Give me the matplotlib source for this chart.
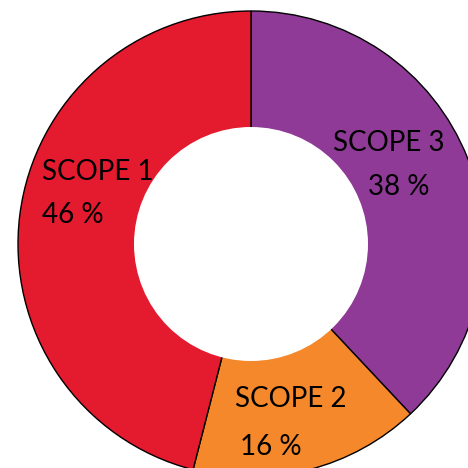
import matplotlib.pyplot as plt
from matplotlib.patches import Circle

labels = ["SCOPE 3", "SCOPE 2", "SCOPE 1"]
valores = [38, 16, 46]
colores = ["#8E3A96", "#F4882A", "#E41B2F"]

W = 468
cx, cy = 251, W - 244
r_ext, r_int = 233, 117

fig = plt.figure(figsize=(4.68, 4.68), dpi=100)
ax = fig.add_axes([0, 0, 1, 1])

ax.pie(valores, colors=colores, startangle=90, counterclock=False,
       center=(cx, cy), radius=r_ext, frame=True,
       wedgeprops=dict(edgecolor="black", linewidth=1.0))
ax.add_patch(Circle((cx, cy), r_int, facecolor="white", edgecolor="none", zorder=5))

# posicion de los textos (pixeles, desde arriba)
pos_nombre = [(333, 151), (235, 407), (42, 180)]
pos_pct = [(368, 195), (240, 455), (42, 223)]

for i in range(len(labels)):
    x, y = pos_nombre[i]
    ax.text(x, W - y, labels[i], fontsize=20, family="Lato", ha="left", va="baseline", zorder=6)
    x, y = pos_pct[i]
    ax.text(x, W - y, str(valores[i]) + " %", fontsize=20, family="Lato", ha="left", va="baseline", zorder=6)

ax.set_xlim(0, W)
ax.set_ylim(0, W)
ax.set_aspect("equal")
ax.axis("off")

fig.savefig("out.png", dpi=100)
